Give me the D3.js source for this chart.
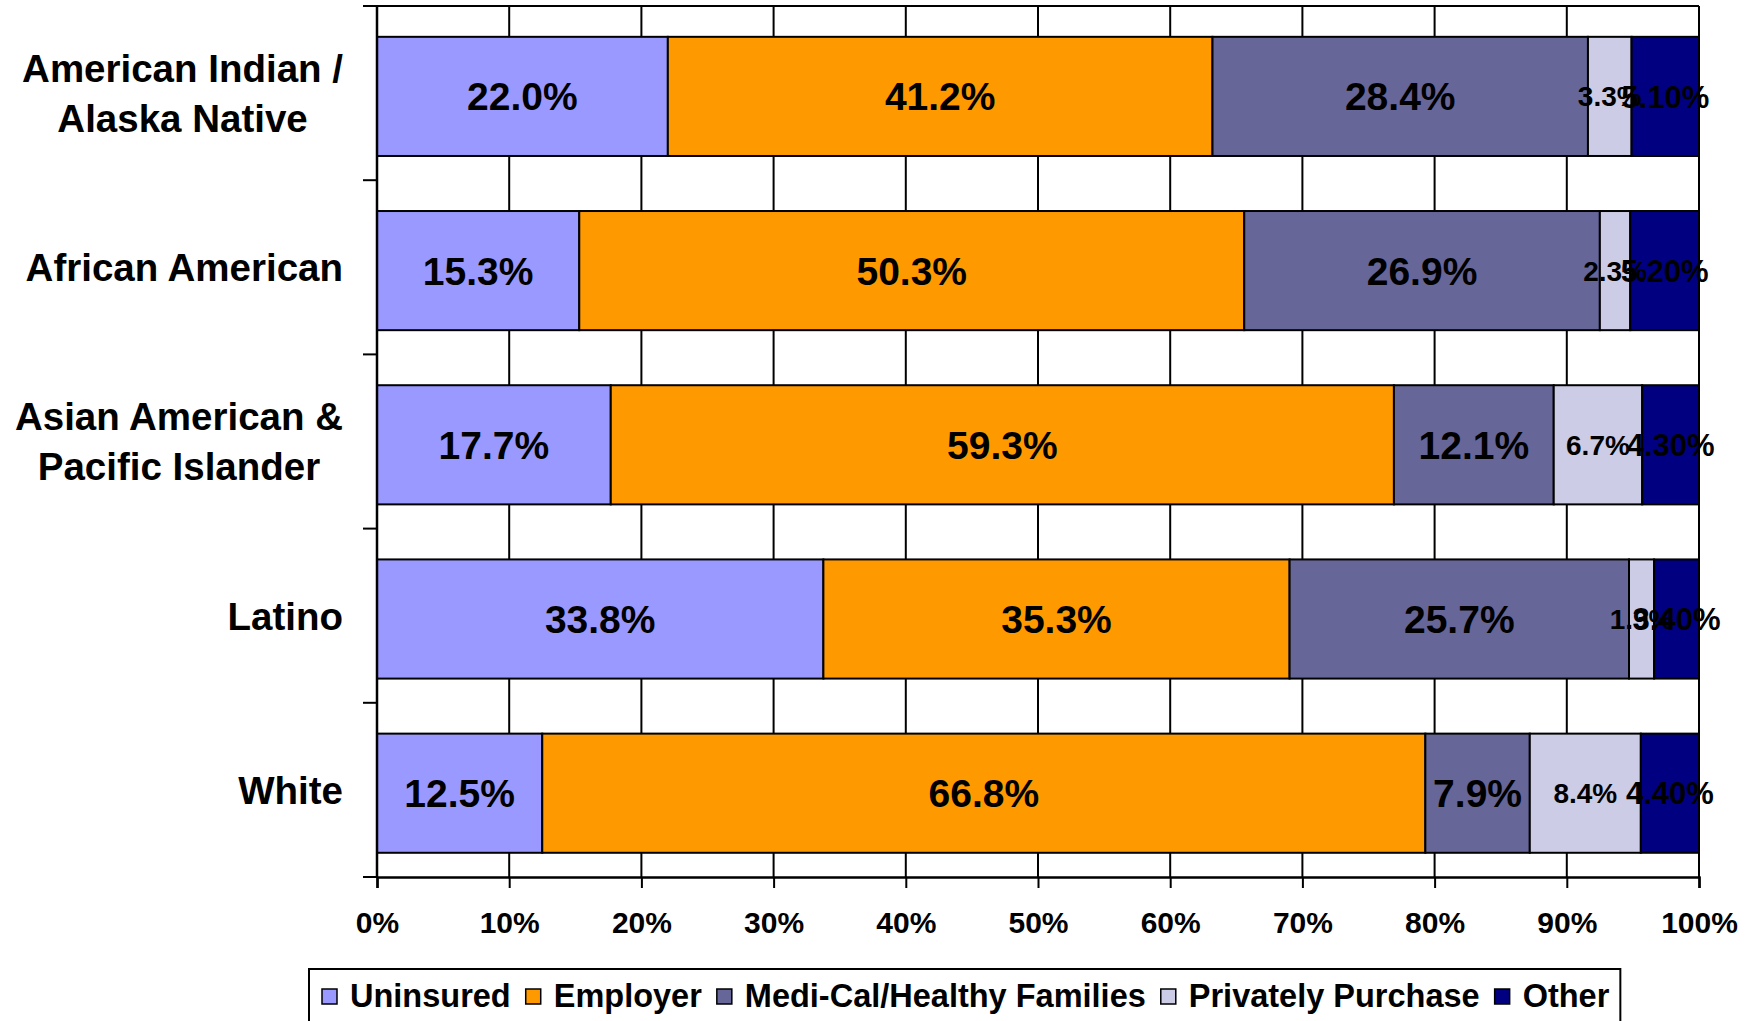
<!DOCTYPE html>
<html>
<head>
<meta charset="utf-8">
<script src="https://cdn.jsdelivr.net/npm/d3@7"></script>
<style>
  body { margin: 0; background: #fff; }
  svg { display: block; font-family: "Liberation Sans", Arial, sans-serif; font-weight: bold; }
</style>
</head>
<body>
<div id="chart"></div>
<script>
var categories = ["American Indian /\nAlaska Native", "African American", "Asian American &\nPacific Islander", "Latino", "White"];
var seriesNames = ["Uninsured", "Employer", "Medi-Cal/Healthy Families", "Privately Purchase", "Other"];
var uninsured = [22.0, 15.3, 17.7, 33.8, 12.5];
var employer = [41.2, 50.3, 59.3, 35.3, 66.8];
var mediCal = [28.4, 26.9, 12.1, 25.7, 7.9];
var privatelyPurchase = [3.3, 2.3, 6.7, 1.9, 8.4];
var other = [5.1, 5.2, 4.3, 3.4, 4.4];
var xTicks = [0, 0.1, 0.2, 0.3, 0.4, 0.5, 0.6, 0.7, 0.8, 0.9, 1];

var colors = ["#9999FF", "#FF9900", "#666699", "#CCCCE6", "#000080"];
var labelSize = [39, 39, 39, 28, 31];
var labelFormat = [d3.format(".1f"), d3.format(".1f"), d3.format(".1f"), d3.format(".1f"), d3.format(".2f")];

var width = 1754, height = 1021;
var plotLeft = 377, plotRight = 1699, plotTop = 6, plotBottom = 877;

// table for d3.stack
var values = [uninsured, employer, mediCal, privatelyPurchase, other];
var rows = categories.map(function(c, i) {
  var r = { cat: c };
  seriesNames.forEach(function(s, j) { r[s] = values[j][i]; });
  return r;
});

var stack = d3.stack().keys(seriesNames).offset(d3.stackOffsetExpand);
var layers = stack(rows);

var svg = d3.select("#chart").append("svg")
  .attr("width", width)
  .attr("height", height);

var x = d3.scaleLinear().domain([0, 1]).range([plotLeft, plotRight]);
var y = d3.scaleBand().domain(categories).range([plotTop, plotBottom])
  .paddingInner(0.316).paddingOuter(0.158).align(0.56);

// gridlines + top border
svg.append("g")
  .selectAll("line")
  .data(xTicks.slice(1))
  .enter().append("line")
    .attr("x1", function(d) { return x(d); })
    .attr("x2", function(d) { return x(d); })
    .attr("y1", plotTop)
    .attr("y2", plotBottom)
    .attr("stroke", "#000")
    .attr("stroke-width", 2);
svg.append("line")
  .attr("x1", plotLeft).attr("x2", plotRight)
  .attr("y1", plotTop).attr("y2", plotTop)
  .attr("stroke", "#000").attr("stroke-width", 2);

// bars
var layer = svg.append("g").selectAll("g")
  .data(layers)
  .enter().append("g")
    .attr("fill", function(d, i) { return colors[i]; });

layer.selectAll("rect")
  .data(function(d) { return d; })
  .enter().append("rect")
    .attr("x", function(d) { return x(d[0]); })
    .attr("y", function(d) { return y(d.data.cat); })
    .attr("width", function(d) { return x(d[1]) - x(d[0]); })
    .attr("height", y.bandwidth())
    .attr("stroke", "#000")
    .attr("stroke-width", 2);

// value labels, drawn after all bars so they sit on top
layers.forEach(function(l, i) {
  svg.append("g").selectAll("text")
    .data(l)
    .enter().append("text")
      .attr("x", function(d) { return (x(d[0]) + x(d[1])) / 2; })
      .attr("y", function(d) { return y(d.data.cat) + y.bandwidth() / 2; })
      .attr("dy", "0.36em")
      .attr("text-anchor", "middle")
      .attr("font-size", labelSize[i])
      .attr("fill", "#000")
      .text(function(d) { return labelFormat[i](d.data[l.key]) + "%"; });
});

// y axis
var yBounds = d3.range(categories.length + 1).map(function(i) { return plotTop + i * y.step(); });
svg.append("line")
  .attr("x1", plotLeft).attr("x2", plotLeft)
  .attr("y1", plotTop).attr("y2", plotBottom)
  .attr("stroke", "#000").attr("stroke-width", 2.5);
svg.append("g").selectAll("line")
  .data(yBounds)
  .enter().append("line")
    .attr("x1", plotLeft - 14).attr("x2", plotLeft)
    .attr("y1", function(d) { return d; })
    .attr("y2", function(d) { return d; })
    .attr("stroke", "#000").attr("stroke-width", 2);

// category labels: lines centred inside a right-aligned block
var catLabel = svg.append("g").selectAll("text")
  .data(categories)
  .enter().append("text")
    .attr("font-size", 38.5)
    .attr("fill", "#000")
    .attr("text-anchor", "middle");

catLabel.each(function(c, i) {
  var t = d3.select(this);
  var lines = c.split("\n");
  var cy = (yBounds[i] + yBounds[i + 1]) / 2;
  var spans = lines.map(function(s, k) {
    return t.append("tspan")
      .attr("y", cy + (k - (lines.length - 1) / 2) * 50)
      .attr("dy", "0.36em")
      .text(s);
  });
  var w = d3.max(spans, function(s) { return s.node().getComputedTextLength(); });
  spans.forEach(function(s) { s.attr("x", 343 - w / 2); });
});

// x axis
var xAxis = svg.append("g")
  .attr("transform", "translate(0," + plotBottom + ")")
  .call(d3.axisBottom(x).tickValues(xTicks).tickFormat(d3.format(".0%")).tickSize(11).tickPadding(24));
xAxis.select(".domain").attr("stroke", "#000").attr("stroke-width", 2.5);
xAxis.selectAll(".tick line").attr("stroke", "#000").attr("stroke-width", 2);
xAxis.selectAll(".tick text")
  .attr("font-size", 30)
  .attr("font-family", "'Liberation Sans', Arial, sans-serif")
  .attr("font-weight", "bold")
  .attr("fill", "#000");
xAxis.attr("font-size", null).attr("font-family", null);

// legend
var legend = svg.append("g");
var legendBox = legend.append("rect")
  .attr("x", 309).attr("y", 969)
  .attr("height", 80)
  .attr("fill", "#fff")
  .attr("stroke", "#000").attr("stroke-width", 2);

var lx = 322;
seriesNames.forEach(function(s, i) {
  legend.append("rect")
    .attr("x", lx).attr("y", 989)
    .attr("width", 15).attr("height", 15)
    .attr("fill", colors[i])
    .attr("stroke", "#000").attr("stroke-width", 1.5);
  var t = legend.append("text")
    .attr("x", lx + 28).attr("y", 1007)
    .attr("font-size", 32.5)
    .attr("fill", "#000")
    .text(s);
  lx += 28 + t.node().getComputedTextLength() + 15;
});
legendBox.attr("width", lx - 309 - 4);
</script>
</body>
</html>
